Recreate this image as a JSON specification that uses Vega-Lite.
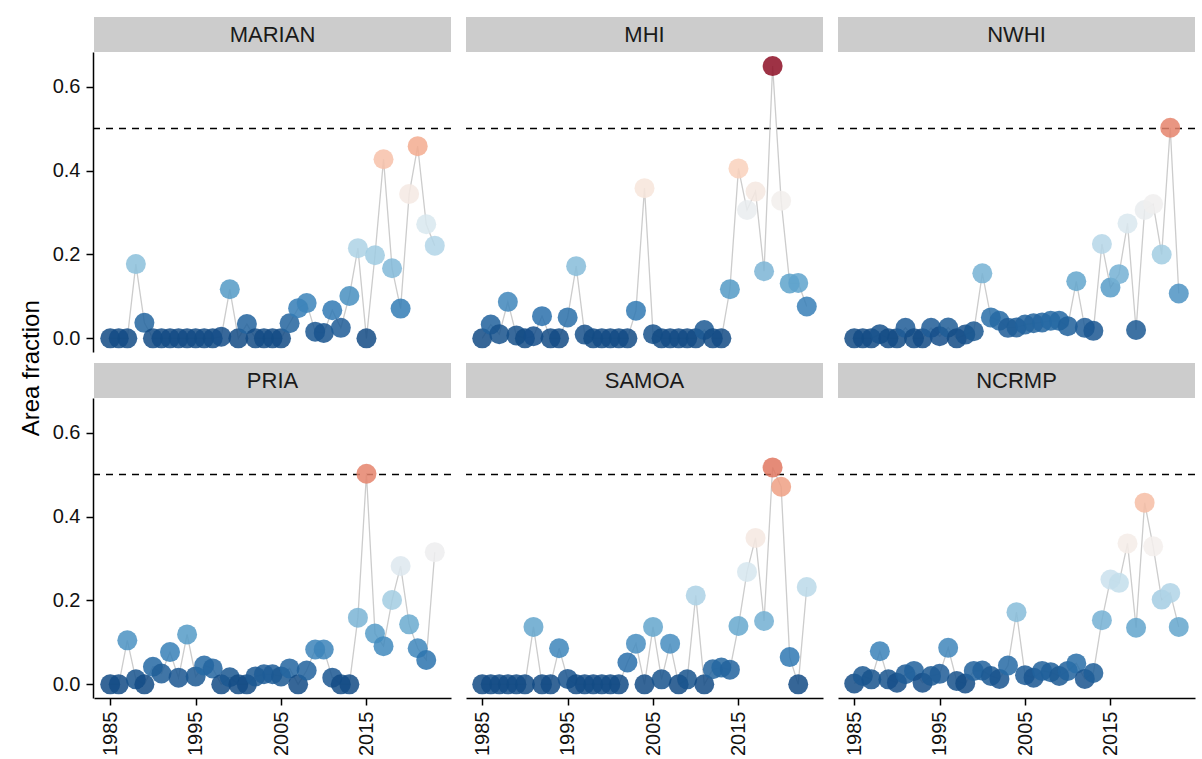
{
  "$schema": "https://vega.github.io/schema/vega-lite/v6.json",
  "padding": {"left": 20, "top": 17, "right": 0, "bottom": 0},
  "background": "white",
  "title": {
    "text": "Area fraction",
    "orient": "left",
    "anchor": "middle",
    "frame": "bounds",
    "font": "Liberation Sans",
    "fontSize": 24,
    "fontWeight": "normal",
    "color": "#000000",
    "offset": 8,
    "dx": 18
  },
  "data": {
    "values": [
      {"region": "MARIAN", "year": 1985, "frac": 0},
      {"region": "MARIAN", "year": 1986, "frac": 0},
      {"region": "MARIAN", "year": 1987, "frac": 0},
      {"region": "MARIAN", "year": 1988, "frac": 0.177},
      {"region": "MARIAN", "year": 1989, "frac": 0.037},
      {"region": "MARIAN", "year": 1990, "frac": 0},
      {"region": "MARIAN", "year": 1991, "frac": 0},
      {"region": "MARIAN", "year": 1992, "frac": 0},
      {"region": "MARIAN", "year": 1993, "frac": 0},
      {"region": "MARIAN", "year": 1994, "frac": 0},
      {"region": "MARIAN", "year": 1995, "frac": 0},
      {"region": "MARIAN", "year": 1996, "frac": 0},
      {"region": "MARIAN", "year": 1997, "frac": 0},
      {"region": "MARIAN", "year": 1998, "frac": 0.004},
      {"region": "MARIAN", "year": 1999, "frac": 0.117},
      {"region": "MARIAN", "year": 2000, "frac": 0},
      {"region": "MARIAN", "year": 2001, "frac": 0.034},
      {"region": "MARIAN", "year": 2002, "frac": 0},
      {"region": "MARIAN", "year": 2003, "frac": 0},
      {"region": "MARIAN", "year": 2004, "frac": 0},
      {"region": "MARIAN", "year": 2005, "frac": 0},
      {"region": "MARIAN", "year": 2006, "frac": 0.036},
      {"region": "MARIAN", "year": 2007, "frac": 0.072},
      {"region": "MARIAN", "year": 2008, "frac": 0.084},
      {"region": "MARIAN", "year": 2009, "frac": 0.016},
      {"region": "MARIAN", "year": 2010, "frac": 0.013},
      {"region": "MARIAN", "year": 2011, "frac": 0.067},
      {"region": "MARIAN", "year": 2012, "frac": 0.025},
      {"region": "MARIAN", "year": 2013, "frac": 0.101},
      {"region": "MARIAN", "year": 2014, "frac": 0.215},
      {"region": "MARIAN", "year": 2015, "frac": 0},
      {"region": "MARIAN", "year": 2016, "frac": 0.198},
      {"region": "MARIAN", "year": 2017, "frac": 0.427},
      {"region": "MARIAN", "year": 2018, "frac": 0.167},
      {"region": "MARIAN", "year": 2019, "frac": 0.071},
      {"region": "MARIAN", "year": 2020, "frac": 0.344},
      {"region": "MARIAN", "year": 2021, "frac": 0.458},
      {"region": "MARIAN", "year": 2022, "frac": 0.272},
      {"region": "MARIAN", "year": 2023, "frac": 0.221},

      {"region": "MHI", "year": 1985, "frac": 0},
      {"region": "MHI", "year": 1986, "frac": 0.033},
      {"region": "MHI", "year": 1987, "frac": 0.01},
      {"region": "MHI", "year": 1988, "frac": 0.087},
      {"region": "MHI", "year": 1989, "frac": 0.007},
      {"region": "MHI", "year": 1990, "frac": 0},
      {"region": "MHI", "year": 1991, "frac": 0.005},
      {"region": "MHI", "year": 1992, "frac": 0.053},
      {"region": "MHI", "year": 1993, "frac": 0},
      {"region": "MHI", "year": 1994, "frac": 0},
      {"region": "MHI", "year": 1995, "frac": 0.05},
      {"region": "MHI", "year": 1996, "frac": 0.172},
      {"region": "MHI", "year": 1997, "frac": 0.009},
      {"region": "MHI", "year": 1998, "frac": 0},
      {"region": "MHI", "year": 1999, "frac": 0},
      {"region": "MHI", "year": 2000, "frac": 0},
      {"region": "MHI", "year": 2001, "frac": 0},
      {"region": "MHI", "year": 2002, "frac": 0},
      {"region": "MHI", "year": 2003, "frac": 0.066},
      {"region": "MHI", "year": 2004, "frac": 0.358},
      {"region": "MHI", "year": 2005, "frac": 0.01},
      {"region": "MHI", "year": 2006, "frac": 0},
      {"region": "MHI", "year": 2007, "frac": 0},
      {"region": "MHI", "year": 2008, "frac": 0},
      {"region": "MHI", "year": 2009, "frac": 0},
      {"region": "MHI", "year": 2010, "frac": 0},
      {"region": "MHI", "year": 2011, "frac": 0.02},
      {"region": "MHI", "year": 2012, "frac": 0},
      {"region": "MHI", "year": 2013, "frac": 0},
      {"region": "MHI", "year": 2014, "frac": 0.117},
      {"region": "MHI", "year": 2015, "frac": 0.405},
      {"region": "MHI", "year": 2016, "frac": 0.306},
      {"region": "MHI", "year": 2017, "frac": 0.35},
      {"region": "MHI", "year": 2018, "frac": 0.16},
      {"region": "MHI", "year": 2019, "frac": 0.649},
      {"region": "MHI", "year": 2020, "frac": 0.328},
      {"region": "MHI", "year": 2021, "frac": 0.131},
      {"region": "MHI", "year": 2022, "frac": 0.132},
      {"region": "MHI", "year": 2023, "frac": 0.076},

      {"region": "NWHI", "year": 1985, "frac": 0},
      {"region": "NWHI", "year": 1986, "frac": 0},
      {"region": "NWHI", "year": 1987, "frac": 0},
      {"region": "NWHI", "year": 1988, "frac": 0.01},
      {"region": "NWHI", "year": 1989, "frac": 0},
      {"region": "NWHI", "year": 1990, "frac": 0},
      {"region": "NWHI", "year": 1991, "frac": 0.025},
      {"region": "NWHI", "year": 1992, "frac": 0},
      {"region": "NWHI", "year": 1993, "frac": 0},
      {"region": "NWHI", "year": 1994, "frac": 0.025},
      {"region": "NWHI", "year": 1995, "frac": 0.005},
      {"region": "NWHI", "year": 1996, "frac": 0.026},
      {"region": "NWHI", "year": 1997, "frac": 0},
      {"region": "NWHI", "year": 1998, "frac": 0.009},
      {"region": "NWHI", "year": 1999, "frac": 0.017},
      {"region": "NWHI", "year": 2000, "frac": 0.155},
      {"region": "NWHI", "year": 2001, "frac": 0.05},
      {"region": "NWHI", "year": 2002, "frac": 0.042},
      {"region": "NWHI", "year": 2003, "frac": 0.025},
      {"region": "NWHI", "year": 2004, "frac": 0.026},
      {"region": "NWHI", "year": 2005, "frac": 0.033},
      {"region": "NWHI", "year": 2006, "frac": 0.036},
      {"region": "NWHI", "year": 2007, "frac": 0.038},
      {"region": "NWHI", "year": 2008, "frac": 0.042},
      {"region": "NWHI", "year": 2009, "frac": 0.042},
      {"region": "NWHI", "year": 2010, "frac": 0.029},
      {"region": "NWHI", "year": 2011, "frac": 0.136},
      {"region": "NWHI", "year": 2012, "frac": 0.025},
      {"region": "NWHI", "year": 2013, "frac": 0.018},
      {"region": "NWHI", "year": 2014, "frac": 0.225},
      {"region": "NWHI", "year": 2015, "frac": 0.121},
      {"region": "NWHI", "year": 2016, "frac": 0.153},
      {"region": "NWHI", "year": 2017, "frac": 0.274},
      {"region": "NWHI", "year": 2018, "frac": 0.02},
      {"region": "NWHI", "year": 2019, "frac": 0.306},
      {"region": "NWHI", "year": 2020, "frac": 0.32},
      {"region": "NWHI", "year": 2021, "frac": 0.2},
      {"region": "NWHI", "year": 2022, "frac": 0.502},
      {"region": "NWHI", "year": 2023, "frac": 0.107},

      {"region": "PRIA", "year": 1985, "frac": 0},
      {"region": "PRIA", "year": 1986, "frac": 0},
      {"region": "PRIA", "year": 1987, "frac": 0.105},
      {"region": "PRIA", "year": 1988, "frac": 0.012},
      {"region": "PRIA", "year": 1989, "frac": 0},
      {"region": "PRIA", "year": 1990, "frac": 0.042},
      {"region": "PRIA", "year": 1991, "frac": 0.026},
      {"region": "PRIA", "year": 1992, "frac": 0.077},
      {"region": "PRIA", "year": 1993, "frac": 0.016},
      {"region": "PRIA", "year": 1994, "frac": 0.119},
      {"region": "PRIA", "year": 1995, "frac": 0.019},
      {"region": "PRIA", "year": 1996, "frac": 0.045},
      {"region": "PRIA", "year": 1997, "frac": 0.038},
      {"region": "PRIA", "year": 1998, "frac": 0},
      {"region": "PRIA", "year": 1999, "frac": 0.017},
      {"region": "PRIA", "year": 2000, "frac": 0},
      {"region": "PRIA", "year": 2001, "frac": 0},
      {"region": "PRIA", "year": 2002, "frac": 0.019},
      {"region": "PRIA", "year": 2003, "frac": 0.024},
      {"region": "PRIA", "year": 2004, "frac": 0.024},
      {"region": "PRIA", "year": 2005, "frac": 0.019},
      {"region": "PRIA", "year": 2006, "frac": 0.038},
      {"region": "PRIA", "year": 2007, "frac": 0},
      {"region": "PRIA", "year": 2008, "frac": 0.033},
      {"region": "PRIA", "year": 2009, "frac": 0.083},
      {"region": "PRIA", "year": 2010, "frac": 0.083},
      {"region": "PRIA", "year": 2011, "frac": 0.016},
      {"region": "PRIA", "year": 2012, "frac": 0},
      {"region": "PRIA", "year": 2013, "frac": 0},
      {"region": "PRIA", "year": 2014, "frac": 0.159},
      {"region": "PRIA", "year": 2015, "frac": 0.502},
      {"region": "PRIA", "year": 2016, "frac": 0.121},
      {"region": "PRIA", "year": 2017, "frac": 0.091},
      {"region": "PRIA", "year": 2018, "frac": 0.201},
      {"region": "PRIA", "year": 2019, "frac": 0.282},
      {"region": "PRIA", "year": 2020, "frac": 0.143},
      {"region": "PRIA", "year": 2021, "frac": 0.086},
      {"region": "PRIA", "year": 2022, "frac": 0.058},
      {"region": "PRIA", "year": 2023, "frac": 0.315},

      {"region": "SAMOA", "year": 1985, "frac": 0},
      {"region": "SAMOA", "year": 1986, "frac": 0},
      {"region": "SAMOA", "year": 1987, "frac": 0},
      {"region": "SAMOA", "year": 1988, "frac": 0},
      {"region": "SAMOA", "year": 1989, "frac": 0},
      {"region": "SAMOA", "year": 1990, "frac": 0},
      {"region": "SAMOA", "year": 1991, "frac": 0.137},
      {"region": "SAMOA", "year": 1992, "frac": 0},
      {"region": "SAMOA", "year": 1993, "frac": 0},
      {"region": "SAMOA", "year": 1994, "frac": 0.086},
      {"region": "SAMOA", "year": 1995, "frac": 0.013},
      {"region": "SAMOA", "year": 1996, "frac": 0},
      {"region": "SAMOA", "year": 1997, "frac": 0},
      {"region": "SAMOA", "year": 1998, "frac": 0},
      {"region": "SAMOA", "year": 1999, "frac": 0},
      {"region": "SAMOA", "year": 2000, "frac": 0},
      {"region": "SAMOA", "year": 2001, "frac": 0},
      {"region": "SAMOA", "year": 2002, "frac": 0.052},
      {"region": "SAMOA", "year": 2003, "frac": 0.097},
      {"region": "SAMOA", "year": 2004, "frac": 0},
      {"region": "SAMOA", "year": 2005, "frac": 0.137},
      {"region": "SAMOA", "year": 2006, "frac": 0.012},
      {"region": "SAMOA", "year": 2007, "frac": 0.097},
      {"region": "SAMOA", "year": 2008, "frac": 0},
      {"region": "SAMOA", "year": 2009, "frac": 0.012},
      {"region": "SAMOA", "year": 2010, "frac": 0.212},
      {"region": "SAMOA", "year": 2011, "frac": 0},
      {"region": "SAMOA", "year": 2012, "frac": 0.036},
      {"region": "SAMOA", "year": 2013, "frac": 0.04},
      {"region": "SAMOA", "year": 2014, "frac": 0.035},
      {"region": "SAMOA", "year": 2015, "frac": 0.139},
      {"region": "SAMOA", "year": 2016, "frac": 0.268},
      {"region": "SAMOA", "year": 2017, "frac": 0.349},
      {"region": "SAMOA", "year": 2018, "frac": 0.151},
      {"region": "SAMOA", "year": 2019, "frac": 0.517},
      {"region": "SAMOA", "year": 2020, "frac": 0.471},
      {"region": "SAMOA", "year": 2021, "frac": 0.065},
      {"region": "SAMOA", "year": 2022, "frac": 0},
      {"region": "SAMOA", "year": 2023, "frac": 0.232},

      {"region": "NCRMP", "year": 1985, "frac": 0.002},
      {"region": "NCRMP", "year": 1986, "frac": 0.02},
      {"region": "NCRMP", "year": 1987, "frac": 0.012},
      {"region": "NCRMP", "year": 1988, "frac": 0.079},
      {"region": "NCRMP", "year": 1989, "frac": 0.012},
      {"region": "NCRMP", "year": 1990, "frac": 0.004},
      {"region": "NCRMP", "year": 1991, "frac": 0.024},
      {"region": "NCRMP", "year": 1992, "frac": 0.032},
      {"region": "NCRMP", "year": 1993, "frac": 0.004},
      {"region": "NCRMP", "year": 1994, "frac": 0.02},
      {"region": "NCRMP", "year": 1995, "frac": 0.025},
      {"region": "NCRMP", "year": 1996, "frac": 0.087},
      {"region": "NCRMP", "year": 1997, "frac": 0.008},
      {"region": "NCRMP", "year": 1998, "frac": 0.002},
      {"region": "NCRMP", "year": 1999, "frac": 0.032},
      {"region": "NCRMP", "year": 2000, "frac": 0.033},
      {"region": "NCRMP", "year": 2001, "frac": 0.02},
      {"region": "NCRMP", "year": 2002, "frac": 0.013},
      {"region": "NCRMP", "year": 2003, "frac": 0.045},
      {"region": "NCRMP", "year": 2004, "frac": 0.172},
      {"region": "NCRMP", "year": 2005, "frac": 0.022},
      {"region": "NCRMP", "year": 2006, "frac": 0.016},
      {"region": "NCRMP", "year": 2007, "frac": 0.032},
      {"region": "NCRMP", "year": 2008, "frac": 0.029},
      {"region": "NCRMP", "year": 2009, "frac": 0.02},
      {"region": "NCRMP", "year": 2010, "frac": 0.032},
      {"region": "NCRMP", "year": 2011, "frac": 0.05},
      {"region": "NCRMP", "year": 2012, "frac": 0.013},
      {"region": "NCRMP", "year": 2013, "frac": 0.027},
      {"region": "NCRMP", "year": 2014, "frac": 0.153},
      {"region": "NCRMP", "year": 2015, "frac": 0.25},
      {"region": "NCRMP", "year": 2016, "frac": 0.242},
      {"region": "NCRMP", "year": 2017, "frac": 0.336},
      {"region": "NCRMP", "year": 2018, "frac": 0.135},
      {"region": "NCRMP", "year": 2019, "frac": 0.433},
      {"region": "NCRMP", "year": 2020, "frac": 0.329},
      {"region": "NCRMP", "year": 2021, "frac": 0.202},
      {"region": "NCRMP", "year": 2022, "frac": 0.218},
      {"region": "NCRMP", "year": 2023, "frac": 0.137}
    ]
  },
  "facet": {
    "field": "region",
    "type": "nominal",
    "sort": ["MARIAN", "MHI", "NWHI", "PRIA", "SAMOA", "NCRMP"],
    "header": {"title": null, "labelExpr": "''", "labelFontSize": 0, "labelPadding": 0}
  },
  "columns": 3,
  "spacing": {"row": 11, "column": 13},
  "spec": {
    "width": 357,
    "height": 300,
    "layer": [
      {
        "transform": [
          {"aggregate": [{"op": "count", "as": "n"}], "groupby": ["region"]}
        ],
        "layer": [
          {
            "mark": {"type": "rect", "color": "#cccccc", "clip": false},
            "encoding": {
              "x": {"datum": 1983.1, "type": "quantitative", "scale": {"domain": [1983.1, 2024.9], "nice": false, "zero": false},
                    "axis": {"values": [1985, 1995, 2005, 2015], "format": "d", "labelAngle": -90, "title": null, "labelFontSize": 20, "labelFont": "Liberation Sans", "labelColor": "#111111"}},
              "x2": {"datum": 2024.9},
              "y": {"datum": 0.6825, "type": "quantitative", "scale": {"domain": [-0.0325, 0.6825], "nice": false, "zero": false},
                    "axis": {"values": [0, 0.2, 0.4, 0.6], "format": ".1f", "title": null, "labelFontSize": 20, "labelFont": "Liberation Sans", "labelColor": "#111111"}},
              "y2": {"datum": 0.7659}
            }
          },
          {
            "mark": {"type": "text", "font": "Liberation Sans", "fontSize": 22, "color": "#1a1a1a", "baseline": "middle", "align": "center", "clip": false},
            "encoding": {
              "x": {"datum": 2004, "type": "quantitative", "scale": {"domain": [1983.1, 2024.9], "nice": false, "zero": false},
                    "axis": {"values": [1985, 1995, 2005, 2015], "format": "d", "labelAngle": -90, "title": null, "labelFontSize": 20, "labelFont": "Liberation Sans", "labelColor": "#111111"}},
              "y": {"datum": 0.7242, "type": "quantitative", "scale": {"domain": [-0.0325, 0.6825], "nice": false, "zero": false},
                    "axis": {"values": [0, 0.2, 0.4, 0.6], "format": ".1f", "title": null, "labelFontSize": 20, "labelFont": "Liberation Sans", "labelColor": "#111111"}},
              "text": {"field": "region", "type": "nominal"}
            }
          },
          {
            "mark": {"type": "rule", "color": "#000000", "strokeWidth": 1.5, "strokeDash": [7, 6]},
            "encoding": {
              "y": {"datum": 0.5, "type": "quantitative", "scale": {"domain": [-0.0325, 0.6825], "nice": false, "zero": false},
                    "axis": {"values": [0, 0.2, 0.4, 0.6], "format": ".1f", "title": null, "labelFontSize": 20, "labelFont": "Liberation Sans", "labelColor": "#111111"}}
            }
          }
        ]
      },
      {
        "mark": {"type": "line", "color": "#cccccc", "strokeWidth": 1.3},
        "encoding": {
          "x": {"field": "year", "type": "quantitative", "scale": {"domain": [1983.1, 2024.9], "nice": false, "zero": false},
                "axis": {"values": [1985, 1995, 2005, 2015], "format": "d", "labelAngle": -90, "title": null, "labelFontSize": 20, "labelFont": "Liberation Sans", "labelColor": "#111111"}},
          "y": {"field": "frac", "type": "quantitative", "scale": {"domain": [-0.0325, 0.6825], "nice": false, "zero": false},
                "axis": {"values": [0, 0.2, 0.4, 0.6], "format": ".1f", "title": null, "labelFontSize": 20, "labelFont": "Liberation Sans", "labelColor": "#111111"}}
        }
      },
      {
        "mark": {"type": "circle", "size": 400, "opacity": 0.85},
        "encoding": {
          "x": {"field": "year", "type": "quantitative", "scale": {"domain": [1983.1, 2024.9], "nice": false, "zero": false},
                "axis": {"values": [1985, 1995, 2005, 2015], "format": "d", "labelAngle": -90, "title": null, "labelFontSize": 20, "labelFont": "Liberation Sans", "labelColor": "#111111"}},
          "y": {"field": "frac", "type": "quantitative", "scale": {"domain": [-0.0325, 0.6825], "nice": false, "zero": false},
                "axis": {"values": [0, 0.2, 0.4, 0.6], "format": ".1f", "title": null, "labelFontSize": 20, "labelFont": "Liberation Sans", "labelColor": "#111111"}},
          "color": {
            "field": "frac",
            "type": "quantitative",
            "scale": {"scheme": "redblue", "reverse": true, "domain": [0, 0.65]},
            "legend": null
          }
        }
      }
    ]
  },
  "config": {
    "view": {"stroke": null},
    "axis": {
      "grid": false,
      "domainColor": "#000000",
      "domainWidth": 1.5,
      "tickColor": "#000000",
      "tickWidth": 1.5,
      "tickSize": 7,
      "labelFont": "Liberation Sans",
      "labelFontSize": 20,
      "labelColor": "#111111",
      "labelPadding": 6
    }
  }
}
